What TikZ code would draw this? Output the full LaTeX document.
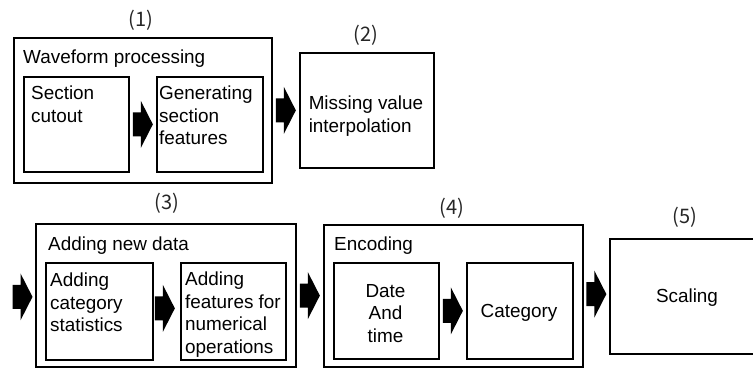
\documentclass[tikz,border=0pt]{standalone}
\usepackage{fontspec}
\setmainfont{Liberation Sans}
\newfontfamily\cjk{Noto Sans CJK JP}
\usetikzlibrary{calc}

% step numbers set in half-width cells
\newcommand\stepnum[1]{{\cjk\fontsize{20}{22}\selectfont\makebox[8.8pt]{(}\makebox[8.8pt]{#1}\makebox[8.8pt]{)}}}

\tikzset{
  frame/.style={draw=black, line width=1.7pt, inner sep=0pt, anchor=north west},
  txt/.style={inner sep=0pt, font=\fontsize{18.9}{22.5}\selectfont},
  tag/.style={inner sep=0pt, text=black!85},
  fatarrow/.style={fill=black, draw=none},
}

% thick block arrow centred on a coordinate
\newcommand\fatarrowat[1]{%
  \fill[fatarrow, shift={(#1)}] (-10,-12) -- (-2,-12) -- (-2,-23.5) -- (10,0)
    -- (-2,23.5) -- (-2,12) -- (-10,12) -- cycle;}

\begin{document}
\begin{tikzpicture}[x=1pt, y=-1pt]
\useasboundingbox (0,0) rectangle (753,368);

% (1) waveform processing
\node[frame, minimum width=258pt, minimum height=145pt] (b1) at (13,37) {};
\node[frame, minimum width=105pt, minimum height=95pt] (b1a) at (23,76) {};
\node[frame, minimum width=106pt, minimum height=95pt] (b1b) at (156,76) {};
\node[txt, anchor=base west] (t1) at (23,63) {Waveform processing};
\node[txt, anchor=north west, align=left] (s1a) at (31,86) {Section\\cutout};
\node[txt, anchor=north west, align=left] (s1b) at (159,86) {Generating\\section\\features};
\node[tag] (n1) at (141,20) {\stepnum{1}};

% (2) missing value interpolation
\node[frame, minimum width=134pt, minimum height=115pt] (b2) at (299,52) {};
\node[txt, anchor=north, align=left] (s2) at (366,96) {Missing value\\interpolation};
\node[tag] (n2) at (366,35) {\stepnum{2}};

% (3) adding new data
\node[frame, minimum width=260pt, minimum height=143pt] (b3) at (35,223) {};
\node[frame, minimum width=107pt, minimum height=97pt] (b3a) at (45,262) {};
\node[frame, minimum width=105pt, minimum height=97pt] (b3b) at (180,262) {};
\node[txt, anchor=base west] (t3) at (48,250) {Adding new data};
\node[txt, anchor=north west, align=left] (s3a) at (50,273) {Adding\\category\\statistics};
\node[txt, anchor=north west, align=left] (s3b) at (185,272) {Adding\\features for\\numerical\\operations};
\node[tag] (n3) at (167,203) {\stepnum{3}};

% (4) encoding
\node[frame, minimum width=259pt, minimum height=142pt] (b4) at (323,224) {};
\node[frame, minimum width=105pt, minimum height=96pt] (b4a) at (333,262) {};
\node[frame, minimum width=106pt, minimum height=96pt] (b4b) at (466,262) {};
\node[txt, anchor=base west] (t4) at (334,250) {Encoding};
\node[txt, anchor=north, align=center] (s4a) at (385.5,284) {Date\\And\\time};
\node[txt] (s4b) at (519,313) {Category};
\node[tag] (n4) at (452,208) {\stepnum{4}};

% (5) scaling
\node[frame, minimum width=156pt, minimum height=115pt] (b5) at (609,238) {};
\node[txt] (s5) at (687,298) {Scaling};
\node[tag] (n5) at (685,217) {\stepnum{5}};

% arrows between the steps
\coordinate (m1) at ($(b1a.east)!0.5!(b1b.west)$);
\coordinate (m2) at ($(b1.east)!0.5!(b2.west)$);
\coordinate (m3) at ($(b3.west)+(-12.5,1.5)$);
\coordinate (m4) at ($(b3a.east)!0.5!(b3b.west)+(-2,-3)$);
\coordinate (m5) at ($(b3.east)!0.5!(b4.west)$);
\coordinate (m6) at ($(b4a.east)!0.5!(b4b.west)$);
\coordinate (m7) at ($(b4.east)!0.5!(b5.west)+(0,-2)$);
\foreach \m in {m1,m2,m3,m4,m5,m6,m7} {\fatarrowat{\m}}
\end{tikzpicture}
\end{document}
